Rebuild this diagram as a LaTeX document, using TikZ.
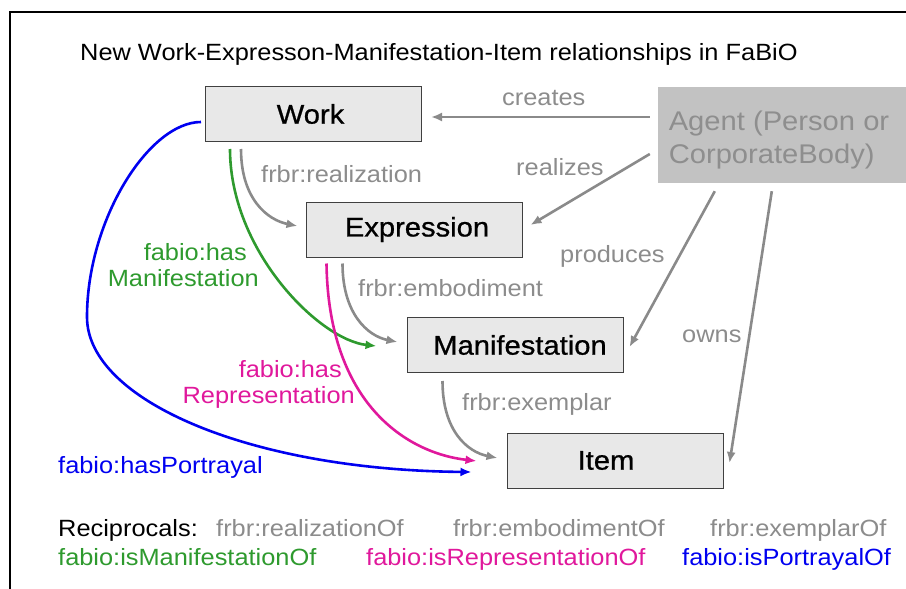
\documentclass[tikz,border=0pt]{standalone}
\usepackage{fontspec}
\setmainfont{Liberation Sans}[FakeStretch=1.08]
\newfontfamily\boxfont{Liberation Sans}[FakeStretch=1.08, FakeBold=0.8]
\usetikzlibrary{arrows.meta}
\definecolor{arrgray}{HTML}{8A8A8A}
\definecolor{txtgray}{HTML}{8C8C8C}
\definecolor{fgreen}{HTML}{2E9A2E}
\definecolor{fmag}{HTML}{E0189C}
\definecolor{fblue}{HTML}{0000F0}
\definecolor{boxfill}{HTML}{E8E8E8}
\definecolor{agentfill}{HTML}{C2C2C2}
\definecolor{agenttext}{HTML}{8E8E8E}
\begin{document}
\begin{tikzpicture}[x=1pt,y=-1pt,
  frbrbox/.style={draw=black!75, line width=1pt, fill=boxfill, minimum width=216pt, minimum height=55pt, inner sep=0pt, font=\boxfont\fontsize{27}{30}\selectfont},
  agentbox/.style={fill=agentfill, minimum width=248pt, minimum height=96pt, inner sep=0pt, text=agenttext, font=\fontsize{27}{33}\selectfont},
  lbl/.style={anchor=base west, inner sep=0pt, font=\fontsize{23.5}{26}\selectfont},
  lbl2/.style={anchor=east, inner sep=0pt, align=right, font=\fontsize{23.5}{26}\selectfont},
  conn/.style={line width=2.6pt, -{Latex[length=11pt,width=9pt]}},
  grayconn/.style={conn, draw=arrgray},
]
\useasboundingbox (0,0) rectangle (906,589);
\draw[line width=1.5pt] (10,589) -- (10,12) -- (906,12);

% title
\node[lbl] (title) at (80,60) {New Work-Expresson-Manifestation-Item relationships in FaBiO};

% boxes
\node[frbrbox] (work) at (313.5,114) {\kern-6pt Work};
\node[frbrbox] (expr) at (414,229.5) {\kern6pt Expression};
\node[frbrbox] (manif) at (515,345) {\kern10pt Manifestation};
\node[frbrbox] (item) at (615,460.5) {\kern-18pt Item};
\node[agentbox] (agent) at (782,135) {\raisebox{-11.5pt}[0pt][0pt]{\kern-6pt\begin{tabular}{@{}l@{}}Agent (Person or\\CorporateBody)\end{tabular}}};

% agent arrows
\draw[grayconn] ([shift={(-8,-18)}]agent.west) -- ([shift={(9,3)}]work.east);
\draw[grayconn] ([shift={(-8,19)}]agent.west) -- ([shift={(8,-4.5)}]expr.east);
\draw[grayconn] ([shift={(57,8)}]agent.south west) -- ([shift={(6,2)}]manif.east);
\draw[grayconn] ([shift={(114,8)}]agent.south west) -- ([shift={(6,2.5)}]item.east);

% frbr curves
\draw[grayconn] ([shift={(36,7)}]work.south west) .. controls +(0,50) and +(-30,-6) .. ([shift={(-8,-3.5)}]expr.west);
\draw[grayconn] ([shift={(37,6)}]expr.south west) .. controls +(0,50) and +(-30,-6) .. ([shift={(-9,-3)}]manif.west);
\draw[grayconn] ([shift={(36,8)}]manif.south west) .. controls +(0,50) and +(-30,-6) .. ([shift={(-9,-2.5)}]item.west);

% fabio curves
\draw[conn, draw=fgreen] ([shift={(25,7)}]work.south west) .. controls +(0,102) and +(-57,-6) .. ([shift={(-30,1)}]manif.west);
\draw[conn, draw=fmag] ([shift={(21,6)}]expr.south west) .. controls +(2,140) and +(-70,-8) .. ([shift={(-30,0.5)}]item.west);
\coordinate (blueturn) at (87,317);
\draw[conn, draw=fblue] ([shift={(-4,8)}]work.west) .. controls +(-52,0) and +(0,-97) .. (blueturn) .. controls +(0,83) and +(-222,-2) .. ([shift={(-35,11.5)}]item.west);

% labels
\node[lbl, text=txtgray] (lcreates) at (502,105) {creates};
\node[lbl, text=txtgray] (lrealizes) at (516,175) {realizes};
\node[lbl, text=txtgray] (lproduces) at (560,262) {produces};
\node[lbl, text=txtgray] (lowns) at (682,342) {owns};
\node[lbl, text=txtgray] (lreal) at (261,182) {frbr:realization};
\node[lbl, text=txtgray] (lemb) at (358,296) {frbr:embodiment};
\node[lbl, text=txtgray] (lexe) at (462,410) {frbr:exemplar};
\node[lbl2, text=fgreen] (lhasman) at (259,265.4) {fabio:has\kern12pt\\Manifestation};
\node[lbl2, text=fmag] (lhasrep) at (355,384.4) {fabio:has\kern13pt\\Representation};
\node[lbl, text=fblue] (lhaspor) at (58,473) {fabio:hasPortrayal};

% reciprocals
\node[lbl] (recip) at (58,536) {Reciprocals:};
\node[lbl, text=txtgray] (r1) at (216,536) {frbr:realizationOf};
\node[lbl, text=txtgray] (r2) at (453,536) {frbr:embodimentOf};
\node[lbl, text=txtgray] (r3) at (710,536) {frbr:exemplarOf};
\node[lbl, text=fgreen] (r4) at (58,565) {fabio:isManifestationOf};
\node[lbl, text=fmag] (r5) at (366,565) {fabio:isRepresentationOf};
\node[lbl, text=fblue] (r6) at (682,565) {fabio:isPortrayalOf};
\end{tikzpicture}
\end{document}
